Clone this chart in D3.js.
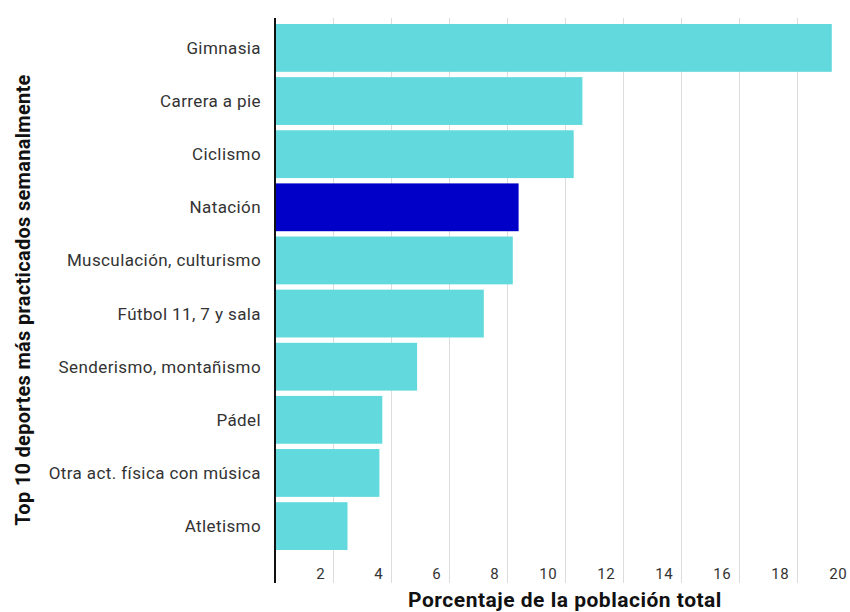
<!DOCTYPE html>
<meta charset="utf-8">
<style>
body { margin: 0; background: #fff; }
text { font-family: Roboto, "Noto Sans", sans-serif; }
.grid line { stroke: #dcdcdc; stroke-width: 1; }
.label { font-size: 17px; letter-spacing: 0.4px; fill: #333; }
.tick-label { font-size: 15px; letter-spacing: 0.4px; fill: #333; }
.title { font-weight: bold; fill: #111; }
</style>
<svg width="850" height="612"></svg>
<script src="https://d3js.org/d3.v7.min.js"></script>
<script>

var deportes = ["Gimnasia", "Carrera a pie", "Ciclismo", "Natación",
    "Musculación, culturismo", "Fútbol 11, 7 y sala", "Senderismo, montañismo",
    "Pádel", "Otra act. física con música", "Atletismo"];
var porcentajes = [19.2, 10.6, 10.3, 8.4, 8.2, 7.2, 4.9, 3.7, 3.6, 2.5];
var destacado = "Natación";
var ticks = [2, 4, 6, 8, 10, 12, 14, 16, 18, 20];

var svg = d3.select("svg");

var x = d3.scaleLinear()
    .domain([0, 20])
    .range([275, 855]);

var y = d3.scaleBand()
    .domain(deportes)
    .range([24, 550])
    .paddingInner(0.1)
    .paddingOuter(0);

// gridlines
svg.append("g")
    .attr("class", "grid")
  .selectAll("line")
  .data(ticks)
  .enter().append("line")
    .attr("x1", function(d) { return x(d) + 0.5; })
    .attr("x2", function(d) { return x(d) + 0.5; })
    .attr("y1", 18)
    .attr("y2", 583);

// bars
svg.append("g")
  .selectAll("rect")
  .data(deportes)
  .enter().append("rect")
    .attr("x", x(0))
    .attr("y", function(d) { return y(d); })
    .attr("width", function(d, i) { return x(porcentajes[i]) - x(0); })
    .attr("height", y.bandwidth())
    .attr("fill", function(d) { return d === destacado ? "#0000c8" : "#62d9dd"; });

// category labels
svg.append("g")
  .selectAll("text")
  .data(deportes)
  .enter().append("text")
    .attr("class", "label")
    .attr("x", 261)
    .attr("y", function(d) { return y(d) + y.bandwidth() / 2; })
    .attr("dy", "0.35em")
    .attr("text-anchor", "end")
    .text(function(d) { return d; });

// tick labels
svg.append("g")
  .selectAll("text")
  .data(ticks)
  .enter().append("text")
    .attr("class", "tick-label")
    .attr("x", function(d) { return x(d) - 8; })
    .attr("y", 579)
    .attr("text-anchor", "end")
    .text(function(d) { return d; });

// axis line
svg.append("line")
    .attr("x1", x(0))
    .attr("x2", x(0))
    .attr("y1", 18)
    .attr("y2", 583)
    .attr("stroke", "#111")
    .attr("stroke-width", 2);

// titles
svg.append("text")
    .attr("class", "title")
    .attr("x", 565)
    .attr("y", 607)
    .attr("text-anchor", "middle")
    .style("font-size", "21px")
    .style("letter-spacing", "0.5px")
    .text("Porcentaje de la población total");

svg.append("text")
    .attr("class", "title")
    .attr("transform", "translate(30,300) rotate(-90)")
    .attr("text-anchor", "middle")
    .style("font-size", "20px")
    .style("letter-spacing", "0.3px")
    .text("Top 10 deportes más practicados semanalmente");

</script>
